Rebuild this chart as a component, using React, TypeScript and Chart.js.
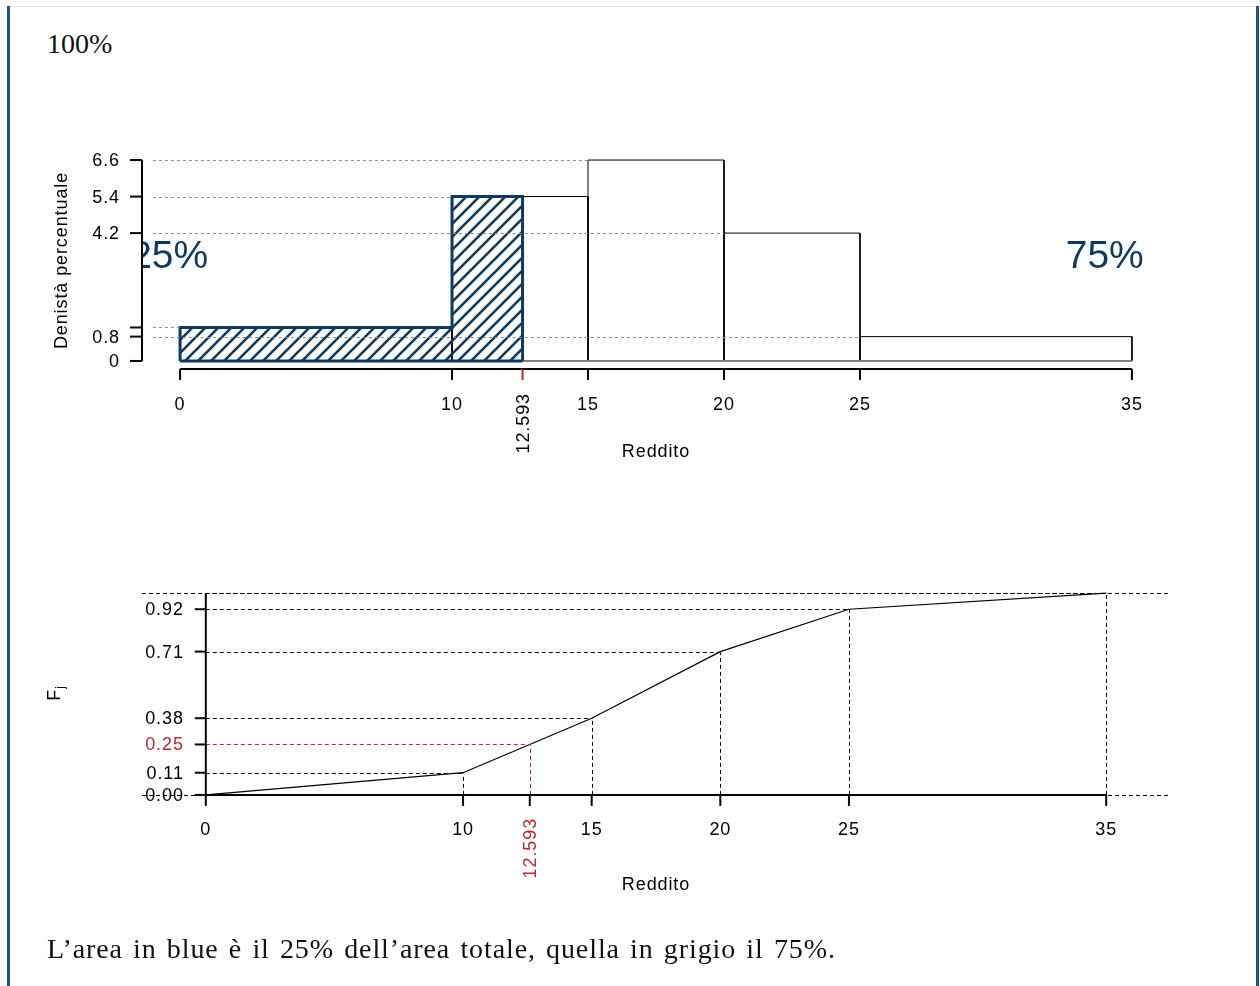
import React, { useEffect, useRef } from "react";
import { Chart, registerables } from "chart.js";

Chart.register(...registerables);

// ---------- data ----------
const breaks = [0, 10, 15, 20, 25, 35];
const densities = [1.1, 5.4, 6.6, 4.2, 0.8];
const cumulative = [0, 0.11, 0.38, 0.71, 0.92, 1];
const quantileX = 12.593;
const quantileP = 0.25;
const xTicks = [0, 10, 15, 20, 25, 35];
const xTickLabels = ["0", "10", "15", "20", "25", "35"];
const densityTicks = [0, 0.8, 1.1, 4.2, 5.4, 6.6];
const densityTickLabels = ["0", "0.8", "", "4.2", "5.4", "6.6"];
const cumTicks = [0, 0.11, 0.38, 0.71, 0.92];
const cumTickLabels = ["0.00", "0.11", "0.38", "0.71", "0.92"];
const quantileLabel = "12.593";
const quantilePLabel = "0.25";
const shareLabels = ["25%", "75%"];

// ---------- styles ----------
const BLUE = "#0d3a5e";
const RED = "#b8282e";
const FONT = '"Liberation Sans", Arial, Helvetica, sans-serif';
const FS = 18;
const LS = "0.9px";

function setText(ctx: any, size: number, color: string, align: string, baseline: string, ls = LS) {
  ctx.font = `${size}px ${FONT}`;
  ctx.fillStyle = color;
  ctx.textAlign = align;
  ctx.textBaseline = baseline;
  try { ctx.letterSpacing = ls; } catch (e) {}
}

function hline(ctx: any, x0: number, x1: number, y: number) {
  ctx.beginPath(); ctx.moveTo(x0, y); ctx.lineTo(x1, y); ctx.stroke();
}
function vline(ctx: any, x: number, y0: number, y1: number) {
  ctx.beginPath(); ctx.moveTo(x, y0); ctx.lineTo(x, y1); ctx.stroke();
}
const h = (v: number) => Math.round(v) + 0.5;

function hatchPolygon() {
  const pts: { x: number; y: number }[] = [{ x: breaks[0], y: 0 }];
  for (let i = 0; i < densities.length; i++) {
    const x0 = breaks[i], x1 = breaks[i + 1];
    if (x0 >= quantileX) break;
    pts.push({ x: x0, y: densities[i] });
    const xe = Math.min(x1, quantileX);
    pts.push({ x: xe, y: densities[i] });
    if (x1 >= quantileX) { pts.push({ x: xe, y: 0 }); break; }
  }
  return pts;
}

function makeHatch() {
  const s = 13;
  const c = document.createElement("canvas");
  c.width = s; c.height = s;
  const g = c.getContext("2d")!;
  g.strokeStyle = BLUE;
  g.lineWidth = 2.6;
  g.beginPath();
  g.moveTo(-1, s + 1); g.lineTo(s + 1, -1);
  g.moveTo(-s / 2 - 1, s / 2 + 1); g.lineTo(s / 2 + 1, -s / 2 - 1);
  g.moveTo(s / 2 - 1, s * 1.5 + 1); g.lineTo(s * 1.5 + 1, s / 2 - 1);
  g.stroke();
  return g.createPattern(c, "repeat");
}

const topPlugin = {
  id: "topDecor",
  afterDatasetsDraw(chart: any) {
    const { ctx, chartArea: a, scales } = chart;
    const x = scales.x, y = scales.y;
    ctx.save();
    // dashed reference lines
    ctx.strokeStyle = "#8c8c8c"; ctx.lineWidth = 1; ctx.setLineDash([3, 3]);
    densities.forEach((d, i) => {
      hline(ctx, x.getPixelForValue(-1), x.getPixelForValue(breaks[i]), h(y.getPixelForValue(d)));
    });
    ctx.setLineDash([]);
    // share labels (clipped to plot region)
    ctx.save();
    ctx.beginPath(); ctx.rect(a.left, a.top, a.right - a.left, a.bottom - a.top); ctx.clip();
    setText(ctx, 39, BLUE, "center", "alphabetic", "0px");
    ctx.fillText(shareLabels[0], x.getPixelForValue(-0.4), y.getPixelForValue(3.05));
    ctx.fillText(shareLabels[1], x.getPixelForValue(34), y.getPixelForValue(3.05));
    ctx.restore();
    // y axis
    ctx.strokeStyle = "#000"; ctx.lineWidth = 2;
    const ax = a.left;
    vline(ctx, ax, y.getPixelForValue(0), y.getPixelForValue(Math.max(...densityTicks)));
    setText(ctx, FS, "#000", "right", "middle");
    densityTicks.forEach((t, i) => {
      const py = y.getPixelForValue(t);
      hline(ctx, ax - 12, ax, py);
      if (densityTickLabels[i]) ctx.fillText(densityTickLabels[i], ax - 22, py + 1);
    });
    // x axis
    const ay = a.bottom;
    hline(ctx, x.getPixelForValue(xTicks[0]), x.getPixelForValue(xTicks[xTicks.length - 1]), ay);
    setText(ctx, FS, "#000", "center", "middle");
    xTicks.forEach((t, i) => {
      const px = x.getPixelForValue(t);
      vline(ctx, px, ay, ay + 11);
      ctx.fillText(xTickLabels[i], px, ay + 36);
    });
    ctx.strokeStyle = RED;
    vline(ctx, x.getPixelForValue(quantileX), ay, ay + 11);
    ctx.save();
    ctx.translate(x.getPixelForValue(quantileX) + 1, ay + 24);
    ctx.rotate(-Math.PI / 2);
    setText(ctx, FS, "#000", "right", "middle");
    ctx.fillText(quantileLabel, 0, 0);
    ctx.restore();
    // titles
    setText(ctx, FS, "#000", "center", "middle");
    ctx.fillText("Reddito", (a.left + a.right) / 2, a.bottom + 83);
    ctx.save();
    ctx.translate(67, (a.top + a.bottom) / 2);
    ctx.rotate(-Math.PI / 2);
    setText(ctx, FS, "#000", "center", "alphabetic");
    ctx.fillText("Denistà percentuale", 0, 0);
    ctx.restore();
    ctx.restore();
  },
};

const bottomPlugin = {
  id: "bottomDecor",
  afterDatasetsDraw(chart: any) {
    const { ctx, chartArea: a, scales } = chart;
    const x = scales.x, y = scales.y;
    const x0 = x.getPixelForValue(0), y0 = y.getPixelForValue(0);
    ctx.save();
    ctx.lineWidth = 1; ctx.setLineDash([4, 3]);
    ctx.strokeStyle = "#000";
    hline(ctx, a.left, a.right, h(y0));
    hline(ctx, a.left, a.right, h(y.getPixelForValue(1)));
    for (let i = 1; i < breaks.length; i++) {
      const px = h(x.getPixelForValue(breaks[i]));
      const py = h(y.getPixelForValue(cumulative[i]));
      vline(ctx, px, y0, py);
      hline(ctx, x0, px, py);
    }
    ctx.strokeStyle = RED;
    const qx = h(x.getPixelForValue(quantileX)), qy = h(y.getPixelForValue(quantileP));
    vline(ctx, qx, y0, qy);
    hline(ctx, x0, qx, qy);
    ctx.setLineDash([]);
    // x axis
    ctx.strokeStyle = "#000"; ctx.lineWidth = 2;
    hline(ctx, x.getPixelForValue(xTicks[0]), x.getPixelForValue(xTicks[xTicks.length - 1]), y0);
    setText(ctx, FS, "#000", "center", "middle");
    xTicks.forEach((t, i) => {
      const px = x.getPixelForValue(t);
      vline(ctx, px, y0, y0 + 11);
      ctx.fillText(xTickLabels[i], px, y0 + 35);
    });
    vline(ctx, x.getPixelForValue(quantileX), y0, y0 + 11);
    ctx.save();
    ctx.translate(x.getPixelForValue(quantileX) + 1, y0 + 23);
    ctx.rotate(-Math.PI / 2);
    setText(ctx, FS, RED, "right", "middle");
    ctx.fillText(quantileLabel, 0, 0);
    ctx.restore();
    // y axis
    vline(ctx, x0, y0, y.getPixelForValue(Math.max(...cumulative)));
    setText(ctx, FS, "#000", "right", "middle");
    cumTicks.forEach((t, i) => {
      const py = y.getPixelForValue(t);
      hline(ctx, x0 - 11, x0, py);
      ctx.fillText(cumTickLabels[i], x0 - 22, py + 1);
    });
    const pp = y.getPixelForValue(quantileP);
    hline(ctx, x0 - 11, x0, pp);
    setText(ctx, FS, RED, "right", "middle");
    ctx.fillText(quantilePLabel, x0 - 22, pp + 1);
    // titles
    setText(ctx, FS, "#000", "center", "middle");
    ctx.fillText("Reddito", (a.left + a.right) / 2, a.bottom + 82);
    ctx.save();
    ctx.translate(60, (a.top + a.bottom) / 2 - 1);
    ctx.rotate(-Math.PI / 2);
    setText(ctx, FS, "#000", "left", "alphabetic");
    const fw = ctx.measureText("F").width;
    ctx.font = `12px ${FONT}`;
    const jw = ctx.measureText("j").width;
    const start = -(fw + jw) / 2;
    setText(ctx, FS, "#000", "left", "alphabetic");
    ctx.fillText("F", start, 0);
    setText(ctx, 12, "#000", "left", "alphabetic", "0px");
    ctx.fillText("j", start + fw, 4);
    ctx.restore();
    ctx.restore();
  },
};

const baseOptions = (padding: any, xr: number[], yr: number[]) => ({
  animation: false as const,
  responsive: false,
  maintainAspectRatio: false,
  events: [],
  layout: { padding },
  elements: { point: { radius: 0 }, line: { tension: 0 } },
  scales: {
    x: { type: "linear" as const, min: xr[0], max: xr[1], display: false },
    y: { type: "linear" as const, min: yr[0], max: yr[1], display: false },
  },
  plugins: { legend: { display: false }, tooltip: { enabled: false } },
});

export default function App() {
  const topRef = useRef<HTMLCanvasElement>(null);
  const botRef = useRef<HTMLCanvasElement>(null);

  useEffect(() => {
    const hatch = makeHatch();
    const barSets = densities.map((d, i) => ({
      data: [
        { x: breaks[i], y: 0 },
        { x: breaks[i], y: d },
        { x: breaks[i + 1], y: d },
        { x: breaks[i + 1], y: 0 },
      ],
      borderColor: "#000",
      borderWidth: 1,
      fill: false,
      order: 3,
    }));
    const top = new Chart(topRef.current!, {
      type: "line",
      data: {
        datasets: [
          {
            data: hatchPolygon(),
            borderColor: BLUE,
            borderWidth: 3,
            borderJoinStyle: "miter",
            backgroundColor: hatch as any,
            fill: { value: 0 },
            order: 0,
          },
          {
            data: [{ x: breaks[0], y: 0 }, { x: quantileX, y: 0 }],
            borderColor: BLUE,
            borderWidth: 3,
            fill: false,
            order: 0,
          },
          {
            data: [{ x: breaks[0], y: 0 }, { x: breaks[breaks.length - 1], y: 0 }],
            borderColor: "#808080",
            borderWidth: 2,
            fill: false,
            order: 2,
          },
          ...barSets,
        ] as any,
      },
      options: baseOptions({ left: 142, right: 90, top: 152, bottom: 121 }, [-1.4, 36.4], [-0.264, 6.864]) as any,
      plugins: [topPlugin],
    });
    const bot = new Chart(botRef.current!, {
      type: "line",
      data: {
        datasets: [
          {
            data: breaks.map((b, i) => ({ x: b, y: cumulative[i] })),
            borderColor: "#000",
            borderWidth: 1.2,
            fill: false,
          },
        ],
      },
      options: baseOptions({ left: 142, right: 90, top: 95, bottom: 183 }, [-2.48, 37.48], [-0.04, 1.04]) as any,
      plugins: [bottomPlugin],
    });
    return () => {
      top.destroy();
      bot.destroy();
    };
  }, []);

  const serif = '"Liberation Serif", "DejaVu Serif", serif';
  return (
    <div style={{ position: "absolute", left: 0, top: 0, width: 1260, height: 986, background: "#fff", overflow: "hidden" }}>
      <div style={{ position: "absolute", left: 7, top: 6, width: 1250, height: 1, background: "#dfe5ec" }} />
      <div style={{ position: "absolute", left: 7, top: 6, width: 3, height: 980, background: "#1d5485" }} />
      <div style={{ position: "absolute", left: 1256, top: 6, width: 3, height: 980, background: "#1d5485" }} />
      <div style={{ position: "absolute", left: 47, top: 29.5, fontFamily: serif, fontSize: 28, lineHeight: "28px", color: "#111", whiteSpace: "nowrap" }}>100%</div>
      <canvas ref={topRef} width={1260} height={490} style={{ position: "absolute", left: 0, top: 0, width: 1260, height: 490 }} />
      <canvas ref={botRef} width={1260} height={496} style={{ position: "absolute", left: 0, top: 490, width: 1260, height: 496 }} />
      <div style={{ position: "absolute", left: 47, top: 935, fontFamily: serif, fontSize: 28, lineHeight: "28px", letterSpacing: "0.9px", wordSpacing: "2.3px", color: "#111", whiteSpace: "nowrap" }}>
        L’area in blue è il 25% dell’area totale, quella in grigio il 75%.
      </div>
    </div>
  );
}
